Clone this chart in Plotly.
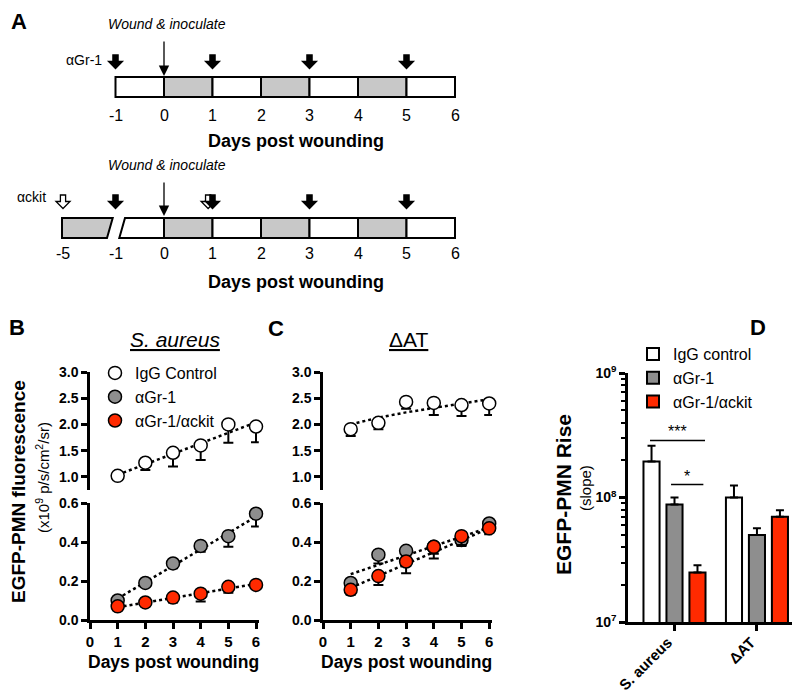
import plotly.graph_objects as go

W, H = 800, 692
OFF = 8  # the page body margin shifts the figure by this many pixels
FONT = "Arial, Liberation Sans, sans-serif"
RED = "#ff2a00"
GREY = "#8e8e8e"
LIGHT = "#c8c8c8"


def px(x):
    """pixel (in the reference picture) -> paper x"""
    return (x - OFF) / W


def py(y):
    """pixel (in the reference picture) -> paper y"""
    return 1 - (y - OFF) / H


# ---------------- data ----------------
# A: dosing schedule
tl_ticks = [-1, 0, 1, 2, 3, 4, 5, 6]
tl_ticks_b = [-5, -1, 0, 1, 2, 3, 4, 5, 6]
grey_cells = [0, 2, 4]
gr1_days = [-1, 1, 3, 5]
ckit_days = [-5, 1]

# B: S. aureus
days = [1, 2, 3, 4, 5, 6]
sa_igg = [1.02, 1.27, 1.46, 1.60, 2.00, 1.96]
sa_igg_err = [0.05, 0.14, 0.26, 0.28, 0.35, 0.30]
sa_gr1 = [0.10, 0.19, 0.29, 0.38, 0.43, 0.545]
sa_gr1_err = [0.01, 0.01, 0.025, 0.03, 0.055, 0.065]
sa_ckit = [0.07, 0.09, 0.115, 0.135, 0.17, 0.18]
sa_ckit_err = [0.01, 0.01, 0.025, 0.04, 0.03, 0.02]
fit_days = [1, 6]
sa_igg_fit = [1.04, 2.04]
sa_gr1_fit = [0.11, 0.53]
sa_ckit_fit = [0.065, 0.185]

# C: delta AT
at_igg = [1.91, 2.03, 2.43, 2.41, 2.37, 2.40]
at_igg_err = [0.13, 0.12, 0.13, 0.23, 0.21, 0.22]
at_gr1 = [0.19, 0.335, 0.355, 0.375, 0.41, 0.495]
at_gr1_err = [0.05, 0.045, 0.03, 0.06, 0.03, 0.03]
at_ckit = [0.155, 0.225, 0.30, 0.375, 0.43, 0.47]
at_ckit_err = [0.025, 0.045, 0.06, 0.035, 0.045, 0.03]
at_igg_fit = [2.00, 2.13, 2.23, 2.32, 2.40, 2.48]
at_gr1_fit = [0.235, 0.475]
at_ckit_fit = [0.165, 0.47]

# D: slopes
strains = ["S. aureus", "ΔAT"]
rise_igg = [1.95e8, 1.0e8]
rise_igg_err = [0.65e8, 0.25e8]
rise_gr1 = [8.8e7, 5.0e7]
rise_gr1_err = [1.2e7, 0.65e7]
rise_ckit = [2.5e7, 7.0e7]
rise_ckit_err = [0.35e7, 0.9e7]

fig = go.Figure()

# ---------------- A: timelines (x = days, y = paper) ----------------
DAY_PX = 48.5
DAY0_PX = 164
BREAK_POS = {-5: (63 - DAY0_PX) / DAY_PX}


def tpos(d):
    return BREAK_POS.get(d, d)


def block_arrow(d, top, fill):
    sw, hw = 2.6 / DAY_PX, 7 / DAY_PX
    y0, y1, y2 = py(top), py(top + 6.5), py(top + 13.5)
    path = (f"M{d - sw},{y0} L{d + sw},{y0} L{d + sw},{y1} L{d + hw},{y1} "
            f"L{d},{y2} L{d - hw},{y1} L{d - sw},{y1} Z")
    return dict(type="path", path=path, xref="x", yref="paper",
                fillcolor=fill, line=dict(color="black", width=1.3))


shapes = []
annotations = []


def txt(x, y, s, size=14, xref="paper", yref="paper", angle=0,
        xanchor="center", yanchor="middle", **font):
    annotations.append(dict(
        x=x, y=y, text=s, xref=xref, yref=yref, showarrow=False,
        textangle=angle, xanchor=xanchor, yanchor=yanchor,
        font=dict(family=FONT, size=size, color="black", **font),
    ))


# top timeline
for d in tl_ticks[:-1]:
    shapes.append(dict(type="rect", xref="x", yref="paper", x0=d, x1=d + 1,
                       y0=py(97), y1=py(77),
                       fillcolor=LIGHT if d in grey_cells else "white",
                       line=dict(color="black", width=2)))
for d in gr1_days:
    shapes.append(block_arrow(d, 55, "black"))
for d in tl_ticks:
    txt(d, py(115), str(d), size=16, xref="x")

# bottom timeline
for d in tl_ticks[1:-1]:
    shapes.append(dict(type="rect", xref="x", yref="paper", x0=d, x1=d + 1,
                       y0=py(238), y1=py(218),
                       fillcolor=LIGHT if d in grey_cells else "white",
                       line=dict(color="black", width=2)))
# broken segment (-5 ... -1)
x_left = tpos(-5) - 1 / DAY_PX
s1_top, s1_bot = (112.7 - DAY0_PX) / DAY_PX, (107.0 - DAY0_PX) / DAY_PX
s2_top, s2_bot = (125.0 - DAY0_PX) / DAY_PX, (119.3 - DAY0_PX) / DAY_PX
shapes.append(dict(type="path", xref="x", yref="paper", fillcolor=LIGHT,
                   line=dict(color="black", width=2),
                   path=f"M{x_left},{py(218)} L{s1_top},{py(218)} L{s1_bot},{py(238)} L{x_left},{py(238)} Z"))
shapes.append(dict(type="path", xref="x", yref="paper", fillcolor="white",
                   line=dict(color="black", width=2),
                   path=f"M{s2_bot},{py(238)} L{s2_top},{py(218)} L0,{py(218)} L0,{py(238)} Z"))
for d in ckit_days:
    off = -0.09 if d == 1 else 0
    shapes.append(block_arrow(tpos(d) + off, 195, "white"))
for d in gr1_days:
    shapes.append(block_arrow(d, 195, "black"))
for d in tl_ticks_b:
    txt(tpos(d), py(253), str(d), size=16, xref="x")

# thin "wound & inoculate" arrows
for tail, tip in [(40, 76), (181, 216)]:
    annotations.append(dict(x=0, y=py(tip), xref="x", yref="paper", text="",
                            showarrow=True, ax=0, ay=-(tip - tail), arrowhead=2,
                            arrowsize=1.6, arrowwidth=1.3, arrowcolor="black"))
    txt(px(167), py(tail - 16), "Wound & inoculate", size=14, style="italic")

txt(px(84), py(60), "αGr-1", size=14)
txt(px(31), py(197), "αckit", size=14)
txt(px(296), py(141), "Days post wounding", size=18, weight="bold")
txt(px(296), py(282), "Days post wounding", size=18, weight="bold")

fig.add_trace(go.Scatter(x=[], y=[], xaxis="x", yaxis="y", showlegend=False))

# ---------------- B / C: time courses ----------------
MK = dict(size=13, line=dict(color="black", width=1.5))
EB = dict(type="data", symmetric=False, color="black", thickness=2, width=5)
DOT = dict(color="black", width=2.5, dash="dot")


def fit(x, y, xa, ya):
    fig.add_trace(go.Scatter(x=x, y=y, mode="lines", line=DOT, hoverinfo="skip",
                             showlegend=False, xaxis=xa, yaxis=ya))


def points(y, err, color, name, xa, ya, legend):
    fig.add_trace(go.Scatter(
        x=days, y=y, mode="markers", name=name, showlegend=legend,
        marker=dict(color=color, **MK), cliponaxis=False,
        error_y=dict(array=[0 for _ in days], arrayminus=err, **EB),
        xaxis=xa, yaxis=ya,
    ))


fit(fit_days, sa_igg_fit, "x3", "y3")
fit(fit_days, sa_gr1_fit, "x4", "y4")
fit(fit_days, sa_ckit_fit, "x4", "y4")
points(sa_igg, sa_igg_err, "white", "IgG Control", "x3", "y3", True)
points(sa_gr1, sa_gr1_err, GREY, "αGr-1", "x4", "y4", True)
points(sa_ckit, sa_ckit_err, RED, "αGr-1/αckit", "x4", "y4", True)

fit(days, at_igg_fit, "x5", "y5")
fit(fit_days, at_gr1_fit, "x6", "y6")
fit(fit_days, at_ckit_fit, "x6", "y6")
points(at_igg, at_igg_err, "white", "IgG Control", "x5", "y5", False)
points(at_gr1, at_gr1_err, GREY, "αGr-1", "x6", "y6", False)
points(at_ckit, at_ckit_err, RED, "αGr-1/αckit", "x6", "y6", False)

# ---------------- D: bars ----------------
for vals, err, color, name in [
    (rise_igg, rise_igg_err, "white", "IgG control"),
    (rise_gr1, rise_gr1_err, GREY, "αGr-1"),
    (rise_ckit, rise_ckit_err, RED, "αGr-1/αckit"),
]:
    fig.add_trace(go.Bar(
        x=strains, y=vals, name=name, legend="legend2",
        marker=dict(color=color, line=dict(color="black", width=2)),
        error_y=dict(type="data", symmetric=False, array=err,
                     arrayminus=[0 for _ in err], color="black", thickness=2, width=4),
        xaxis="x7", yaxis="y7",
    ))

# significance brackets (x in category units, y in data units)
for x0, x1, yv, ystar, stars in [(-0.297, 0.37, 2.87e8, 8.53, "***"),
                                 (-0.042, 0.35, 1.27e8, 8.17, "*")]:
    shapes.append(dict(type="line", xref="x7", yref="y7", x0=x0, x1=x1, y0=yv, y1=yv,
                       line=dict(color="black", width=1.5)))
    annotations.append(dict(x=(x0 + x1) / 2, y=ystar, xref="x7", yref="y7", text=stars,
                            showarrow=False, font=dict(family=FONT, size=16, color="black")))

# rotated category labels, right end at the tick
for i, s in enumerate(strains):
    txt(i + 0.05, py(631), s, size=15, xref="x7", angle=-45,
        xanchor="right", yanchor="top", weight="bold")

# ---------------- titles / labels ----------------
txt(px(19), py(22), "A", size=22, weight="bold")
txt(px(17), py(327), "B", size=22, weight="bold")
txt(px(276), py(329), "C", size=22, weight="bold")
txt(px(758), py(327), "D", size=22, weight="bold")
txt(px(175), py(339), "S. aureus", size=21, style="italic", lineposition="under")
txt(px(408), py(339), "ΔAT", size=21, lineposition="under")
txt(px(18), py(492), "EGFP-PMN fluorescence", size=19, angle=-90, weight="bold")
txt(px(42), py(478), "(x10<sup>9</sup> p/s/cm<sup>2</sup>/sr)", size=15, angle=-90)
txt(px(173), py(662), "Days post wounding", size=17.5, weight="bold")
txt(px(406), py(662), "Days post wounding", size=17.5, weight="bold")
txt(px(563), py(495), "EGFP-PMN Rise", size=21, angle=-90, weight="bold")
txt(px(585), py(488), "(slope)", size=15, angle=-90)

# ---------------- axes ----------------
AX = dict(showline=True, linecolor="black", linewidth=2.5, ticks="outside",
          ticklen=6, tickwidth=2.5, tickcolor="black", showgrid=False, zeroline=False,
          tickfont=dict(family=FONT, size=14, color="black"))
HID = dict(visible=False, showgrid=False, zeroline=False)


def bold(vals, fmt="{:.1f}"):
    return ["<b>" + fmt.format(v) + "</b>" for v in vals]


XB = [px(90), px(90 + 6.1 * 27.67)]
XC = [px(323), px(323 + 6.1 * 27.7)]
Y_UP = [py(490), py(372)]
Y_LO = [py(620), py(503)]
up_ticks = [1.0, 1.5, 2.0, 2.5, 3.0]
lo_ticks = [0.0, 0.2, 0.4, 0.6]
x_ticks = [0] + days
XT = {**AX, "tickfont": dict(family=FONT, size=15, color="black")}
D0 = DAY0_PX - OFF

fig.update_layout(
    xaxis=dict(domain=[0, 1], range=[-D0 / DAY_PX, (W - D0) / DAY_PX], **HID),
    yaxis=dict(domain=[py(300), 1], range=[0, 1], **HID),
    xaxis3=dict(domain=XB, range=[0, 6.1], anchor="y3", **HID),
    yaxis3=dict(domain=Y_UP, range=[0.75, 3.0], anchor="x3", tickvals=up_ticks,
                ticktext=bold(up_ticks), **AX),
    xaxis4=dict(domain=XB, range=[0, 6.1], anchor="y4", tickvals=x_ticks,
                ticktext=bold(x_ticks, "{}"), **XT),
    yaxis4=dict(domain=Y_LO, range=[0, 0.6], anchor="x4", tickvals=lo_ticks,
                ticktext=bold(lo_ticks), **AX),
    xaxis5=dict(domain=XC, range=[0, 6.1], anchor="y5", **HID),
    yaxis5=dict(domain=Y_UP, range=[0.75, 3.0], anchor="x5", tickvals=up_ticks,
                ticktext=bold(up_ticks), **AX),
    xaxis6=dict(domain=XC, range=[0, 6.1], anchor="y6", tickvals=x_ticks,
                ticktext=bold(x_ticks, "{}"), **XT),
    yaxis6=dict(domain=Y_LO, range=[0, 0.6], anchor="x6", tickvals=lo_ticks,
                ticktext=bold(lo_ticks), **AX),
    xaxis7=dict(domain=[px(628), px(799)], range=[-0.564, 1.51], anchor="y7",
                type="category", showticklabels=False, **AX),
    yaxis7=dict(domain=[py(622), py(373)], type="log", range=[7, 9], anchor="x7",
                tickvals=[1e7, 1e8, 1e9],
                ticktext=["<b>10<sup>7</sup></b>", "<b>10<sup>8</sup></b>", "<b>10<sup>9</sup></b>"],
                minor=dict(ticks="outside", ticklen=4, tickwidth=2, tickcolor="black",
                           dtick="D1", showgrid=False),
                **AX),
    barmode="group",
    bargap=0.164,
    bargroupgap=0.30,
    legend=dict(x=px(95), y=py(356), xanchor="left", yanchor="top",
                bgcolor="rgba(0,0,0,0)", itemwidth=30, tracegroupgap=0,
                font=dict(family=FONT, size=16, color="black")),
    legend2=dict(x=px(633), y=py(337), xanchor="left", yanchor="top",
                 bgcolor="rgba(0,0,0,0)", itemwidth=30, tracegroupgap=0,
                 font=dict(family=FONT, size=16, color="black")),
    shapes=shapes,
    annotations=annotations,
    width=W,
    height=H,
    margin=dict(l=0, r=0, t=0, b=0, autoexpand=False),
    paper_bgcolor="white",
    plot_bgcolor="rgba(0,0,0,0)",
    font=dict(family=FONT, color="black"),
)

fig.write_html("out.html")
